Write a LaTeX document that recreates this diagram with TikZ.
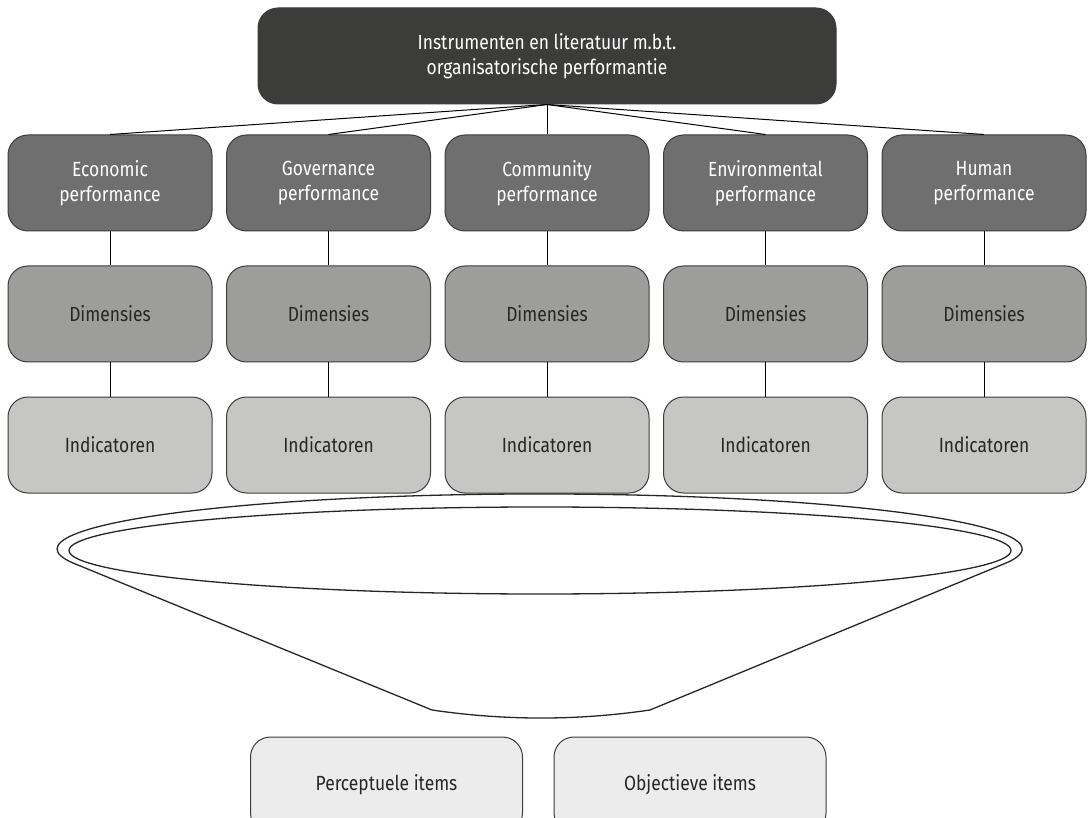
\documentclass[tikz,border=0pt]{standalone}
\usepackage{fontspec}
\setmainfont{Fira Sans}[FakeStretch=0.85]
\usepackage{tikz}
\usetikzlibrary{positioning}
\definecolor{topgrey}{HTML}{3C3C3B}
\definecolor{perfgrey}{HTML}{706F6F}
\definecolor{dimgrey}{HTML}{9D9D9C}
\definecolor{indgrey}{HTML}{C6C6C5}
\definecolor{itemgrey}{HTML}{ECECEC}
\definecolor{randgrey}{HTML}{3C3C3B}
\tikzstyle{vak} = [rectangle, draw=randgrey, line width=1pt, rounded corners=20pt, text centered, align=center, minimum width=204pt, minimum height=96pt, font=\fontsize{20.5}{25.5}\selectfont]
\tikzstyle{hoofd} = [vak, fill=topgrey, text=white, minimum width=578pt]
\tikzstyle{domein} = [vak, fill=perfgrey, text=white]
\tikzstyle{dimensie} = [vak, fill=dimgrey, text=black!85]
\tikzstyle{indicator} = [vak, fill=indgrey, text=black!85]
\tikzstyle{itemvak} = [vak, fill=itemgrey, text=black!85, minimum width=272pt]
\tikzstyle{verbinding} = [line width=1pt, black]
\tikzstyle{trechter} = [line width=1.3pt, draw=black!85]
\begin{document}
\begin{tikzpicture}[x=1pt, y=1pt, node distance=131pt]
\useasboundingbox (0,0) rectangle (1090,-818);
\node [hoofd] at (547,-56) (instrumenten) {Instrumenten en literatuur m.b.t.\\organisatorische performantie};
\node [domein] at (110,-183) (economic) {Economic\\performance};
\node [domein] at (328.5,-183) (governance) {Governance\\performance};
\node [domein] at (547,-183) (community) {Community\\performance};
\node [domein] at (765.5,-183) (environmental) {Environmental\\performance};
\node [domein] at (984,-183) (human) {Human\\performance};
\node [dimensie, below of=economic] (economic_dim) {Dimensies};
\node [dimensie, below of=governance] (governance_dim) {Dimensies};
\node [dimensie, below of=community] (community_dim) {Dimensies};
\node [dimensie, below of=environmental] (environmental_dim) {Dimensies};
\node [dimensie, below of=human] (human_dim) {Dimensies};
\node [indicator, below of=economic_dim] (economic_ind) {Indicatoren};
\node [indicator, below of=governance_dim] (governance_ind) {Indicatoren};
\node [indicator, below of=community_dim] (community_ind) {Indicatoren};
\node [indicator, below of=environmental_dim] (environmental_ind) {Indicatoren};
\node [indicator, below of=human_dim] (human_ind) {Indicatoren};
\node [itemvak] at (386.5,-785) (perceptueel) {Perceptuele items};
\node [itemvak] at (690,-785) (objectief) {Objectieve items};
\draw [verbinding] (instrumenten.south) -- (economic.north);
\draw [verbinding] (instrumenten.south) -- (governance.north);
\draw [verbinding] (instrumenten.south) -- (community.north);
\draw [verbinding] (instrumenten.south) -- (environmental.north);
\draw [verbinding] (instrumenten.south) -- (human.north);
\draw [verbinding] (economic) -- (economic_dim);
\draw [verbinding] (governance) -- (governance_dim);
\draw [verbinding] (community) -- (community_dim);
\draw [verbinding] (environmental) -- (environmental_dim);
\draw [verbinding] (human) -- (human_dim);
\draw [verbinding] (economic_dim) -- (economic_ind);
\draw [verbinding] (governance_dim) -- (governance_ind);
\draw [verbinding] (community_dim) -- (community_ind);
\draw [verbinding] (environmental_dim) -- (environmental_ind);
\draw [verbinding] (human_dim) -- (human_ind);
% trechter
\draw [trechter] (1005.6,-563.2) arc [start angle=-15, end angle=195, x radius=482.5, y radius=55]
	-- (432,-710) .. controls (505,-720.7) and (577,-720.7) .. (650,-710) -- cycle;
\draw [trechter] (540,-550.5) ellipse [x radius=471, y radius=43.5];
\end{tikzpicture}
\end{document}
